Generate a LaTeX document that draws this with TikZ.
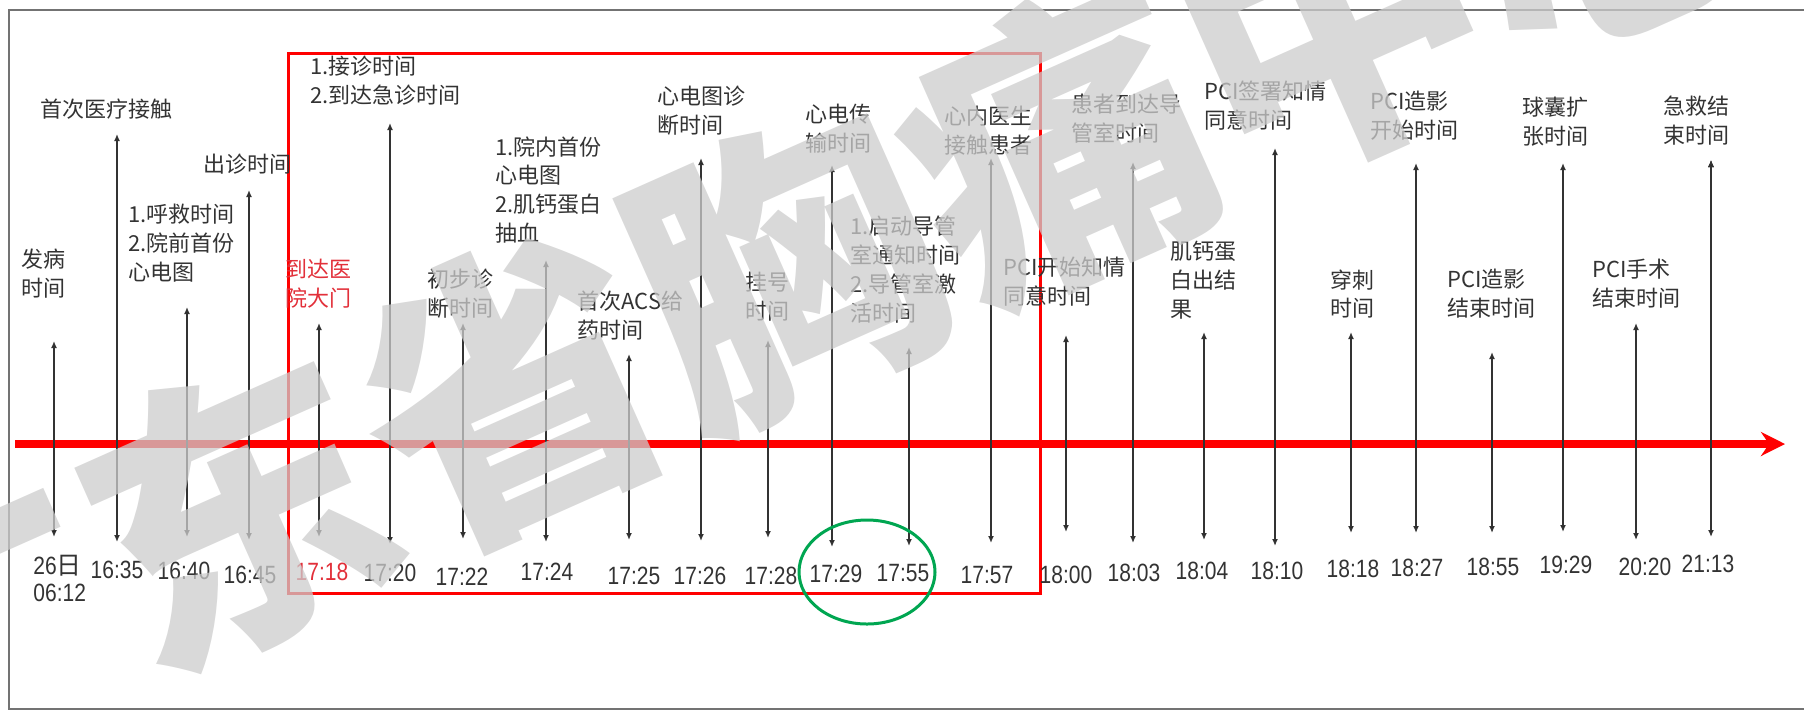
\documentclass[tikz,border=0pt]{standalone}
\usepackage{fontspec}
\setmainfont{Noto Sans CJK SC}
\newfontfamily\timefont[FakeStretch=0.84]{Liberation Sans}
\usepackage{xcolor}
\usepackage{tikz}
\usetikzlibrary{arrows.meta}

\definecolor{axisred}{RGB}{255,0,0}
\definecolor{gatered}{RGB}{226,48,58}
\definecolor{ringgreen}{RGB}{0,166,81}
\definecolor{inkgray}{RGB}{51,51,51}

\begin{document}
\begin{tikzpicture}[x=0.5pt, y=-0.5pt,
    lbl/.style={anchor=north west, align=left, inner sep=0pt, text=inkgray,
                font=\fontsize{11}{14.4}\selectfont},
    tm/.style={inner sep=0pt, text=inkgray, font=\timefont\fontsize{12.5}{13.5}\selectfont},
    tick/.style={draw=inkgray, line width=0.8pt,
                 {Latex[length=3.5pt,width=3pt]}-{Latex[length=3.5pt,width=3pt]}}]
        \useasboundingbox (0,0) rectangle (1804,714);
        \draw[black!55, line width=1.2pt] (1804,10) -- (9,10) -- (9,709) -- (1804,709);

        % time axis and the boxed in-hospital part
        \coordinate (ax0) at (15,444);
        \coordinate (ax1) at (1785,444);
        \draw[axisred, line width=4pt, -{Stealth[length=12pt,width=12pt,inset=4pt]}] (ax0) -- (ax1);
        \draw[axisred, line width=1.5pt] (288,53) rectangle (1040,593);

        % event labels
        \node[lbl] (l1)  at (21,249)   {发病\\时间};
        \node[lbl] (l2)  at (40,99)    {首次医疗接触};
        \node[lbl] (l3)  at (128,204)  {1.呼救时间\\2.院前首份\\心电图};
        \node[lbl] (l4)  at (203,154)  {出诊时间};
        \node[lbl, text=gatered] (l5) at (285,259) {到达医\\院大门};
        \node[lbl] (l6)  at (310,56)   {1.接诊时间\\2.到达急诊时间};
        \node[lbl] (l7)  at (427,269)  {初步诊\\断时间};
        \node[lbl] (l8)  at (495,136)  {1.院内首份\\心电图\\2.肌钙蛋白\\抽血};
        \node[lbl] (l9)  at (577,291)  {首次ACS给\\药时间};
        \node[lbl] (l10) at (657,86)   {心电图诊\\断时间};
        \node[lbl] (l11) at (745,272)  {挂号\\时间};
        \node[lbl] (l12) at (805,104)  {心电传\\输时间};
        \node[lbl] (l13) at (850,216)  {1.启动导管\\室通知时间\\2.导管室激\\活时间};
        \node[lbl] (l14) at (944,106)  {心内医生\\接触患者};
        \node[lbl] (l15) at (1003,257) {PCI开始知情\\同意时间};
        \node[lbl] (l16) at (1071,94)  {患者到达导\\管室时间};
        \node[lbl] (l17) at (1170,241) {肌钙蛋\\白出结\\果};
        \node[lbl] (l18) at (1204,81)  {PCI签署知情\\同意时间};
        \node[lbl] (l19) at (1330,269) {穿刺\\时间};
        \node[lbl] (l20) at (1370,91)  {PCI造影\\开始时间};
        \node[lbl] (l21) at (1447,269) {PCI造影\\结束时间};
        \node[lbl] (l22) at (1522,97)  {球囊扩\\张时间};
        \node[lbl] (l23) at (1592,259) {PCI手术\\结束时间};
        \node[lbl] (l24) at (1663,96)  {急救结\\束时间};

        % times
        \node[tm, anchor=north west, align=left] (t1) at (33,555) {26{\rmfamily 日}\\06:12};
        \node[tm] (t2)  at (117,570)  {16:35};
        \node[tm] (t3)  at (184,571)  {16:40};
        \node[tm] (t4)  at (250,575)  {16:45};
        \node[tm, text=gatered] (t5) at (322,572) {17:18};
        \node[tm] (t6)  at (390,573)  {17:20};
        \node[tm] (t7)  at (462,577)  {17:22};
        \node[tm] (t8)  at (547,572)  {17:24};
        \node[tm] (t9)  at (634,576)  {17:25};
        \node[tm] (t10) at (700,576)  {17:26};
        \node[tm] (t11) at (771,576)  {17:28};
        \node[tm] (t12) at (836,574)  {17:29};
        \node[tm] (t13) at (903,573)  {17:55};
        \node[tm] (t14) at (987,575)  {17:57};
        \node[tm] (t15) at (1066,575) {18:00};
        \node[tm] (t16) at (1134,573) {18:03};
        \node[tm] (t17) at (1202,571) {18:04};
        \node[tm] (t18) at (1277,571) {18:10};
        \node[tm] (t19) at (1353,569) {18:18};
        \node[tm] (t20) at (1417,568) {18:27};
        \node[tm] (t21) at (1493,567) {18:55};
        \node[tm] (t22) at (1566,565) {19:29};
        \node[tm] (t23) at (1645,567) {20:20};
        \node[tm] (t24) at (1708,564) {21:13};

        % arrow ends, upper and lower
        \coordinate (u1) at (54,341);    \coordinate (d1) at (54,537);
        \coordinate (u2) at (117,134);   \coordinate (d2) at (117,542);
        \coordinate (u3) at (187,307);   \coordinate (d3) at (187,537);
        \coordinate (u4) at (249,190);   \coordinate (d4) at (249,540);
        \coordinate (u5) at (319,323);   \coordinate (d5) at (319,537);
        \coordinate (u6) at (390,123);   \coordinate (d6) at (390,544);
        \coordinate (u7) at (463,323);   \coordinate (d7) at (463,539);
        \coordinate (u8) at (546,260);   \coordinate (d8) at (546,542);
        \coordinate (u9) at (629,354);   \coordinate (d9) at (629,540);
        \coordinate (u10) at (701,158);  \coordinate (d10) at (701,541);
        \coordinate (u11) at (768,340);  \coordinate (d11) at (768,538);
        \coordinate (u12) at (832,165);  \coordinate (d12) at (832,547);
        \coordinate (u13) at (909,347);  \coordinate (d13) at (909,546);
        \coordinate (u14) at (991,158);  \coordinate (d14) at (991,543);
        \coordinate (u15) at (1066,335); \coordinate (d15) at (1066,532);
        \coordinate (u16) at (1133,162); \coordinate (d16) at (1133,543);
        \coordinate (u17) at (1204,332); \coordinate (d17) at (1204,540);
        \coordinate (u18) at (1275,148); \coordinate (d18) at (1275,546);
        \coordinate (u19) at (1351,332); \coordinate (d19) at (1351,533);
        \coordinate (u20) at (1416,163); \coordinate (d20) at (1416,533);
        \coordinate (u21) at (1492,352); \coordinate (d21) at (1492,533);
        \coordinate (u22) at (1563,163); \coordinate (d22) at (1563,532);
        \coordinate (u23) at (1636,323); \coordinate (d23) at (1636,540);
        \coordinate (u24) at (1711,160); \coordinate (d24) at (1711,537);

        \draw[tick]
            (u1) edge (d1)   (u2) edge (d2)   (u3) edge (d3)   (u4) edge (d4)
            (u5) edge (d5)   (u6) edge (d6)   (u7) edge (d7)   (u8) edge (d8)
            (u9) edge (d9)   (u10) edge (d10) (u11) edge (d11) (u12) edge (d12)
            (u13) edge (d13) (u14) edge (d14) (u15) edge (d15) (u16) edge (d16)
            (u17) edge (d17) (u18) edge (d18) (u19) edge (d19) (u20) edge (d20)
            (u21) edge (d21) (u22) edge (d22) (u23) edge (d23) (u24) edge (d24)
            ;

        % ring round 17:29 and 17:55
        \draw[ringgreen, line width=1.5pt] (867,572) ellipse [x radius=34pt, y radius=26pt];

        % watermark
        \node[rotate=24, inner sep=0pt, text=black!20, text opacity=0.75,
              font=\fontsize{150}{150}\selectfont\bfseries] (wm) at (784,268) {广东省胸痛中心};
\end{tikzpicture}
\end{document}
